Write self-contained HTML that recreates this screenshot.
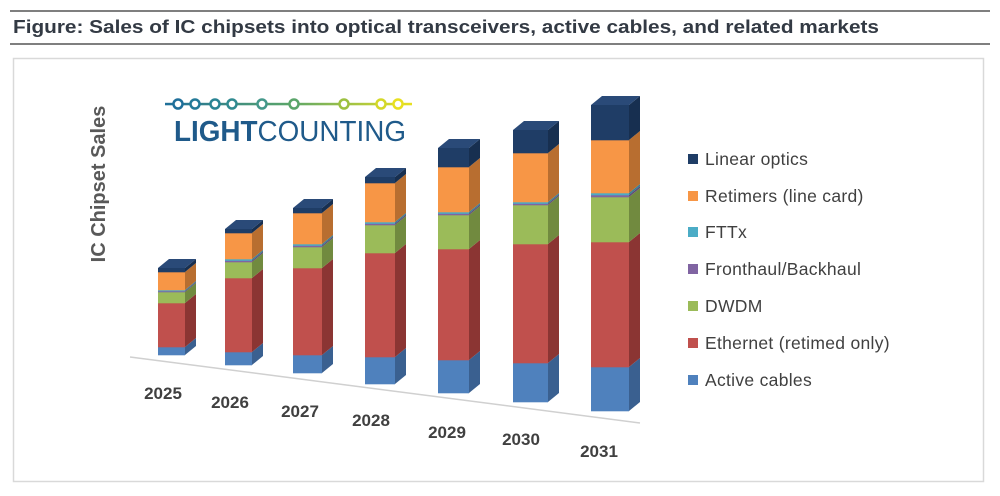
<!DOCTYPE html>
<html><head><meta charset="utf-8"><style>
body{margin:0;background:#fff;width:1000px;height:491px;overflow:hidden;font-family:"Liberation Sans",sans-serif}
</style></head><body>
<svg width="1000" height="491" viewBox="0 0 1000 491" xmlns="http://www.w3.org/2000/svg">
<defs><linearGradient id="lg" gradientUnits="userSpaceOnUse" x1="165" y1="0" x2="412" y2="0"><stop offset="0" stop-color="#1f6f9a"/><stop offset="0.5" stop-color="#5aa56a"/><stop offset="1" stop-color="#e8e020"/></linearGradient></defs>
<line x1="10" y1="11" x2="990" y2="11" stroke="#7f7f7f" stroke-width="2"/>
<text x="13" y="33" font-family="Liberation Sans, sans-serif" font-weight="bold" font-size="18.5" fill="#333a44" textLength="866" lengthAdjust="spacingAndGlyphs">Figure: Sales of IC chipsets into optical transceivers, active cables, and related markets</text>
<line x1="10" y1="44" x2="990" y2="44" stroke="#7f7f7f" stroke-width="2"/>
<rect x="13.5" y="58.5" width="970" height="423" fill="none" stroke="#d9d9d9" stroke-width="1.5"/>
<text transform="translate(105,184) rotate(-90)" text-anchor="middle" font-family="Liberation Sans, sans-serif" font-weight="bold" font-size="20" fill="#595959">IC Chipset Sales</text>
<g id="logo">
<rect x="165" y="102.8" width="247" height="2.5" fill="url(#lg)"/>
<g fill="#fff" stroke-width="2.5">
<circle cx="178" cy="104" r="4.5" stroke="#1f6f9a"/><circle cx="195" cy="104" r="4.5" stroke="#247a98"/><circle cx="215" cy="104" r="4.5" stroke="#2a8494"/><circle cx="232" cy="104" r="4.5" stroke="#308a90"/><circle cx="262" cy="104" r="4.5" stroke="#44988a"/><circle cx="294" cy="104" r="4.5" stroke="#5aa56a"/><circle cx="344" cy="104" r="4.5" stroke="#9cc040"/><circle cx="381" cy="104" r="4.5" stroke="#d4d828"/><circle cx="398" cy="104" r="4.5" stroke="#e8e020"/>
</g>
<text x="174" y="141" font-family="Liberation Sans, sans-serif" font-size="29" fill="#1f5a8a" textLength="232" lengthAdjust="spacingAndGlyphs"><tspan font-weight="bold">LIGHT</tspan>COUNTING</text>
</g>
<line x1="130" y1="357" x2="640" y2="423" stroke="#d0d0d0" stroke-width="1.5"/>
<g id="bars"></g>
<g font-family="Liberation Sans, sans-serif" font-weight="bold" font-size="17" fill="#404040" text-anchor="middle">
<text x="163" y="399">2025</text><text x="230" y="408">2026</text><text x="300" y="417">2027</text><text x="371" y="426">2028</text><text x="447" y="438">2029</text><text x="521" y="445">2030</text><text x="599" y="457">2031</text>
</g>
<g font-family="Liberation Sans, sans-serif" font-size="17.5" fill="#404040" letter-spacing="0.3">
<rect x="688" y="154" width="10" height="10" fill="#1f3d66"/><text x="705" y="165">Linear optics</text>
<rect x="688" y="191" width="10" height="10" fill="#f79646"/><text x="705" y="202">Retimers (line card)</text>
<rect x="688" y="227" width="10" height="10" fill="#4bacc6"/><text x="705" y="238">FTTx</text>
<rect x="688" y="264" width="10" height="10" fill="#8064a2"/><text x="705" y="275">Fronthaul/Backhaul</text>
<rect x="688" y="301" width="10" height="10" fill="#9bbb59"/><text x="705" y="312">DWDM</text>
<rect x="688" y="338" width="10" height="10" fill="#c0504d"/><text x="705" y="349">Ethernet (retimed only)</text>
<rect x="688" y="375" width="10" height="10" fill="#4f81bd"/><text x="705" y="386">Active cables</text>
</g>
</svg>
<script>
var data=[
[158,185,[355,347,303,292,290,272,268]],
[225,252,[365,352,278,262,259,233,229]],
[293,322,[373,355,268,247,244,213,208]],
[365,395,[384,357,253,225,222,183,177]],
[438,469,[393,360,249,215,212,167,148]],
[513,548,[402,363,244,205,202,153,130]],
[591,629,[411,367,242,197,193,140,105]]];
var fr=["#4f81bd","#c0504d","#9bbb59","#8064a2","#4bacc6","#f79646","#1f3d66"];
var sd=["#3a6090","#8b3533","#718a3f","#5e4a78","#378094","#b86e30","#172f50"];
var dx=11,dy=-9,h="";
data.forEach(function(b){
 var x0=b[0],x1=b[1],y=b[2];
 var segs=[[y[0],y[1],0],[y[1],y[2],1],[y[2],y[3],2],[y[3],y[3]-(y[3]-y[4])/2,3],[y[3]-(y[3]-y[4])/2,y[4],4],[y[4],y[5],5],[y[5],y[6],6]];
 segs.forEach(function(s){
  var yb=s[0],yt=s[1],c=s[2];
  h+='<rect x="'+x0+'" y="'+yt+'" width="'+(x1-x0)+'" height="'+(yb-yt+0.3)+'" fill="'+fr[c]+'"/>';
  h+='<polygon points="'+x1+','+yb+' '+(x1+dx)+','+(yb+dy)+' '+(x1+dx)+','+(yt+dy)+' '+x1+','+yt+'" fill="'+sd[c]+'"/>';
 });
 var t=y[6];
 h+='<polygon points="'+x0+','+t+' '+x1+','+t+' '+(x1+dx)+','+(t+dy)+' '+(x0+dx)+','+(t+dy)+'" fill="#2a4a78"/>';
});
document.getElementById("bars").innerHTML=h;
</script>
</body></html>
